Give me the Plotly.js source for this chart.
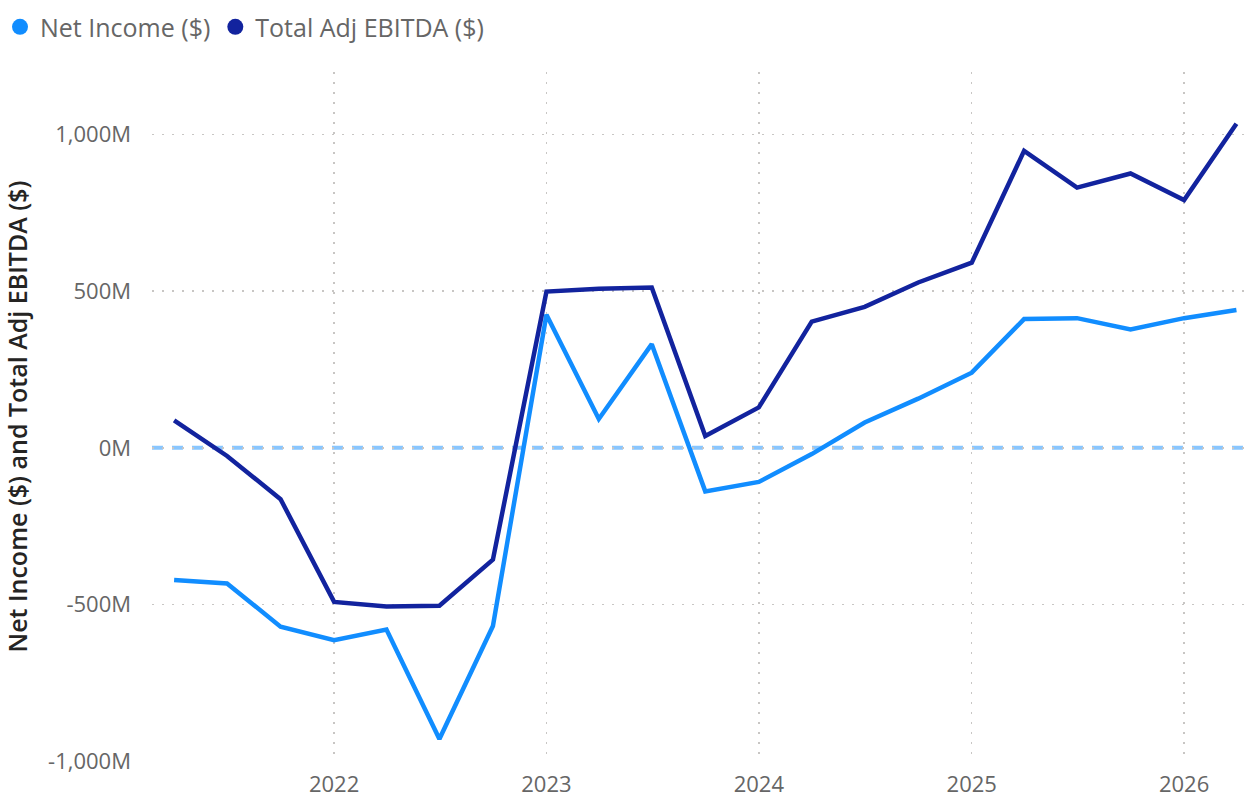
<!DOCTYPE html>
<html>
<head>
<meta charset="utf-8">
<script src="https://cdn.plot.ly/plotly-3.0.1.min.js"></script>
<style>
  html, body { margin: 0; padding: 0; background: #fff; }
  #chart { width: 1248px; height: 797px; }
</style>
</head>
<body>
<div id="chart"></div>
<script>
// Quarter dates
const quarters = [
  "2021-04-01","2021-07-01","2021-10-01","2022-01-01","2022-04-01","2022-07-01","2022-10-01",
  "2023-01-01","2023-04-01","2023-07-01","2023-10-01","2024-01-01","2024-04-01","2024-07-01",
  "2024-10-01","2025-01-01","2025-04-01","2025-07-01","2025-10-01","2026-01-01","2026-04-01"
];
// Values in millions of dollars
const netIncome = [
  -422, -433, -571, -614, -580, -930, -569,
  425, 92, 331, -139, -109, -20, 81,
  157, 240, 411, 414, 378, 414, 440
];
const totalAdjEbitda = [
  88, -26, -164, -492, -507, -504, -357,
  499, 508, 512, 38, 129, 403, 450,
  528, 591, 948, 831, 876, 791, 1035
];
const seriesNames = ["Net Income ($)", "Total Adj EBITDA ($)"];
const seriesColors = ["#118DFF", "#12239E"];
const yTickVals = [-1000, -500, 0, 500, 1000];
const yTickText = ["-1,000M", "-500M", "0M", "500M", "1,000M"];
const xTickVals = ["2022-01-01","2023-01-01","2024-01-01","2025-01-01","2026-01-01"];
const xTickText = ["2022","2023","2024","2025","2026"];

const font = "'Open Sans', 'Noto Sans', sans-serif";

const traces = [
  {
    x: quarters, y: netIncome, type: "scatter", mode: "lines",
    name: seriesNames[0], showlegend: false,
    line: { color: seriesColors[0], width: 4.5, shape: "linear" }
  },
  {
    x: quarters, y: totalAdjEbitda, type: "scatter", mode: "lines",
    name: seriesNames[1], showlegend: false,
    line: { color: seriesColors[1], width: 4.5, shape: "linear" }
  },
  // legend entries (circle markers)
  {
    x: [null], y: [null], type: "scatter", mode: "markers",
    name: seriesNames[0], showlegend: true,
    marker: { color: seriesColors[0], size: 19, symbol: "circle" }
  },
  {
    x: [null], y: [null], type: "scatter", mode: "markers",
    name: seriesNames[1], showlegend: true,
    marker: { color: seriesColors[1], size: 19, symbol: "circle" }
  }
];

const layout = {
  width: 1248, height: 797,
  paper_bgcolor: "#ffffff", plot_bgcolor: "#ffffff",
  margin: { l: 152, r: 4, t: 72, b: 36, autoexpand: false },
  font: { family: font, color: "#666666" },
  showlegend: true,
  legend: {
    orientation: "h", xref: "container", yref: "container",
    x: -0.008, xanchor: "left", y: 0.966, yanchor: "middle",
    font: { family: font, size: 25, color: "#666666" },
    itemwidth: 30, tracegroupgap: 0, bgcolor: "rgba(0,0,0,0)"
  },
  xaxis: {
    type: "date",
    range: ["2021-02-22", "2026-04-14"],
    tickmode: "array", tickvals: xTickVals, ticktext: xTickText,
    tickfont: { family: font, size: 22, color: "#666666" },
    showgrid: true, gridcolor: "#C8C6C4", gridwidth: 1.5, griddash: "2px,8px",
    zeroline: false, showline: false, ticks: "",
    ticklabelstandoff: 8
  },
  yaxis: {
    range: [-1000, 1200],
    tickmode: "array", tickvals: yTickVals, ticktext: yTickText,
    tickfont: { family: font, size: 22, color: "#666666" },
    showgrid: true, gridcolor: "#C8C6C4", gridwidth: 1.5, griddash: "2px,8px",
    zeroline: false, showline: false, ticks: "",
    ticklabelstandoff: 20,
    title: {
      text: "Net Income ($) and Total Adj EBITDA ($)",
      font: { family: font, size: 25, color: "#252423", weight: 600 },
      standoff: 14
    },
    automargin: false
  },
  shapes: [
    {
      type: "line", xref: "paper", yref: "y",
      x0: 0, x1: 1, y0: 0, y1: 0,
      line: { color: "rgba(17,141,255,0.5)", width: 4, dash: "11px,9px" },
      layer: "below"
    }
  ]
};

Plotly.newPlot("chart", traces, layout, { displayModeBar: false, staticPlot: true });
</script>
</body>
</html>
